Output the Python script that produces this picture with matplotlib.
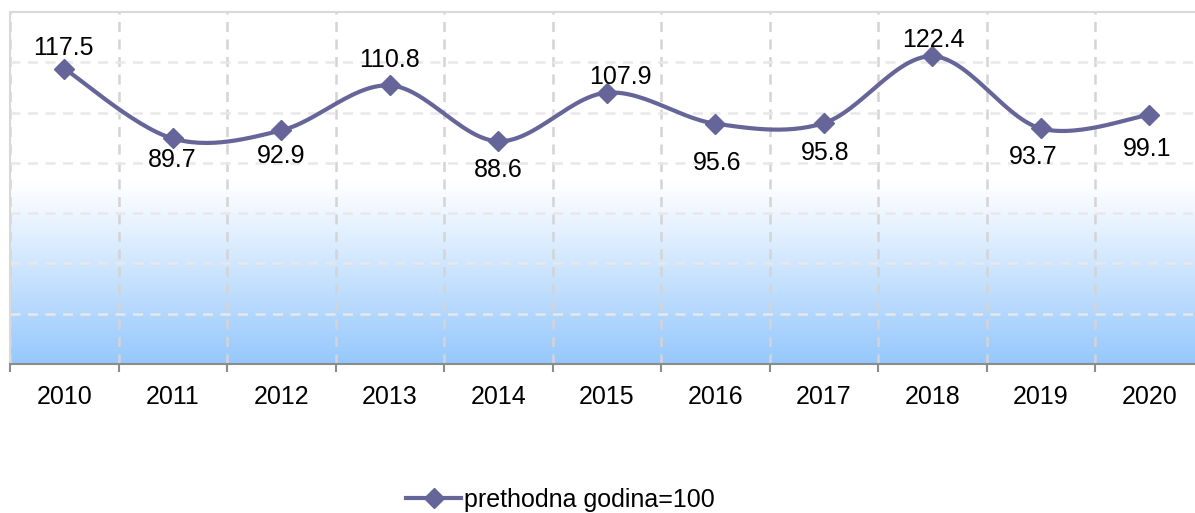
import matplotlib
matplotlib.use("Agg")
import matplotlib.pyplot as plt
from matplotlib.colors import LinearSegmentedColormap
from matplotlib.lines import Line2D
import numpy as np

plt.rcParams['font.family'] = ['Liberation Sans', 'DejaVu Sans']

# data
years = ['2010', '2011', '2012', '2013', '2014', '2015',
         '2016', '2017', '2018', '2019', '2020']
values = [117.5, 89.7, 92.9, 110.8, 88.6, 107.9, 95.6, 95.8, 122.4, 93.7, 99.1]
series_name = 'prethodna godina=100'

# label offsets in pixels (dx, dy), hand-placed like in the original
label_offsets = [(-1, 21), (-1, -22), (0, -26), (0, 25), (0, -29), (14, 16),
                 (2, -39), (1, -30), (1, 16), (-8, -29), (-2, -34)]

LINE_COLOR = '#65659A'
FS = 18


def smooth(xs, ys, steps=30):
    """Excel-like smoothed line: Catmull-Rom as cubic Bezier segments."""
    pts = np.column_stack([xs, ys]).astype(float)
    n = len(pts)
    out = []
    for i in range(n - 1):
        p0 = pts[max(i - 1, 0)]
        p1 = pts[i]
        p2 = pts[i + 1]
        p3 = pts[min(i + 2, n - 1)]
        c1 = p1 + (p2 - p0) / 6.0
        c2 = p2 - (p3 - p1) / 6.0
        t = np.linspace(0, 1, steps)[:, None]
        seg = ((1 - t) ** 3) * p1 + 3 * ((1 - t) ** 2) * t * c1 \
            + 3 * (1 - t) * t ** 2 * c2 + t ** 3 * p2
        out.append(seg if i == 0 else seg[1:])
    out = np.vstack(out)
    return out[:, 0], out[:, 1]


W, H = 1195, 513
fig = plt.figure(figsize=(W / 100, H / 100), dpi=100)
left_px, top_px, bottom_px = 10, 12, 364
slot = 108.5
ax = fig.add_axes([left_px / W, 1 - bottom_px / H,
                   slot * len(years) / W, (bottom_px - top_px) / H])

x = np.arange(len(years))
ax.set_xlim(-0.5, len(years) - 0.5)
ax.set_ylim(0, 140)

# gradient background (white on top, light blue at the bottom)
cmap = LinearSegmentedColormap.from_list(
    'bg', [(0, '#FFFFFF'), (0.486, '#FFFFFF'), (1.0, '#96C8FD')])
grad = np.linspace(0, 1, 256)[:, None]
ax.imshow(grad, cmap=cmap, aspect='auto', extent=[-0.5, len(years) - 0.5, 0, 140],
          origin='upper', zorder=0, interpolation='bicubic')

# grid
ax.set_yticks(np.arange(20, 140, 20))
ax.set_xticks(x)
ax.set_xticks(np.arange(-0.5, len(years), 1), minor=True)
ax.grid(True, axis='y', which='major', color='#E8E8E8', linestyle=(0, (4, 3)),
        linewidth=1.8, zorder=1)
ax.grid(True, axis='x', which='minor', color='#D4D4D4', linestyle=(0, (4, 3)),
        linewidth=1.8, zorder=1)
ax.set_axisbelow(True)

ax.set_xticklabels(years, fontsize=FS)
ax.tick_params(axis='x', which='major', length=0, pad=15)
ax.tick_params(axis='x', which='minor', length=6, width=1.5, color='#8C8C8C',
               direction='out')
ax.tick_params(axis='y', which='both', left=False, labelleft=False)

for side in ['left', 'top']:
    ax.spines[side].set_color('#D9D9D9')
    ax.spines[side].set_linewidth(1.5)
ax.spines['right'].set_visible(False)
ax.spines['bottom'].set_color('#8C8C8C')
ax.spines['bottom'].set_linewidth(1.5)

# smoothed line + markers
sx, sy = smooth(x, values)
ax.plot(sx, sy, color=LINE_COLOR, linewidth=3, zorder=3, solid_capstyle='round')
ax.plot(x, values, linestyle='none', marker='D', markersize=10,
        color=LINE_COLOR, zorder=4)

for xi, v, (dx, dy) in zip(x, values, label_offsets):
    ax.annotate(f'{v:.1f}', (xi, v), xytext=(dx, dy), textcoords='offset pixels',
                ha='center', va='center', fontsize=FS, color='black', zorder=5)

handle = Line2D([], [], color=LINE_COLOR, linewidth=3, marker='D', markersize=10)
fig.legend([handle], [series_name], loc='center', bbox_to_anchor=(0.469, 0.026),
           frameon=False, fontsize=FS, handlelength=2.2, handletextpad=0.1,
           borderpad=0, borderaxespad=0)

fig.savefig('out.png', dpi=100)
